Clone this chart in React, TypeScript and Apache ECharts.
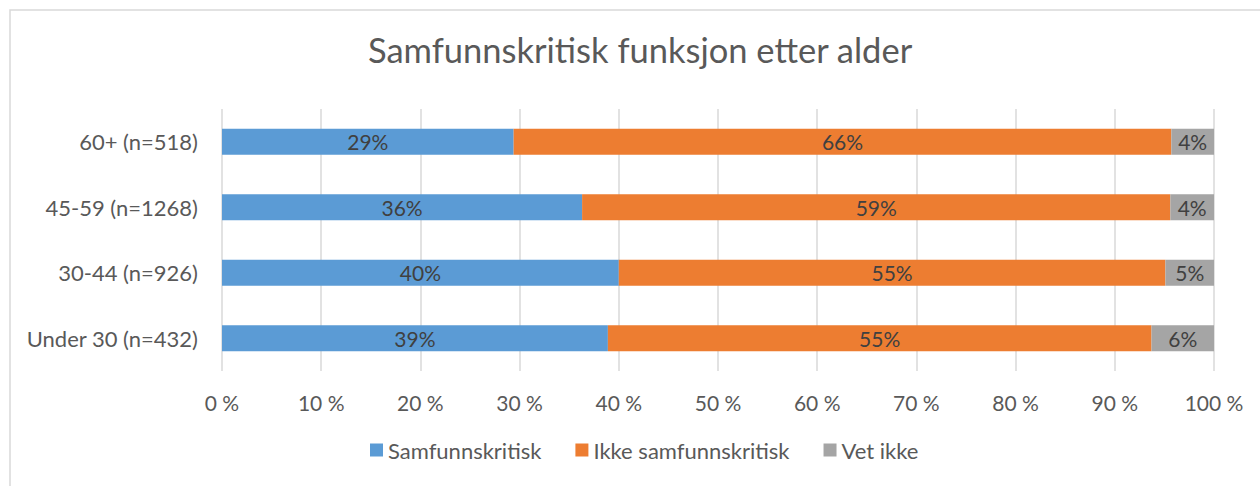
import React, { useEffect, useRef } from "react";
import * as echarts from "echarts";

const categories = ["Under 30 (n=432)", "30-44 (n=926)", "45-59 (n=1268)", "60+ (n=518)"];
const seriesNames = ["Samfunnskritisk", "Ikke samfunnskritisk", "Vet ikke"];
const samfunnskritisk = [38.9, 40.0, 36.3, 29.4];
const ikkeSamfunnskritisk = [54.8, 55.1, 59.3, 66.3];
const vetIkke = [6.3, 4.9, 4.4, 4.3];
const colors = ["#5B9BD5", "#ED7D31", "#A5A5A5"];
const FONT = "Lato, sans-serif";

export default function App() {
  const ref = useRef<HTMLDivElement>(null);
  useEffect(() => {
    const chart = echarts.init(ref.current!, null, { renderer: "svg" });
    const values = [samfunnskritisk, ikkeSamfunnskritisk, vetIkke];
    chart.setOption({
      animation: false,
      textStyle: { fontFamily: FONT },
      title: {
        text: "Samfunnskritisk funksjon etter alder",
        left: 368,
        top: 32,
        padding: 0,
        textStyle: { fontFamily: FONT, fontSize: 34.5, fontWeight: "normal", color: "#595959" },
      },
      graphic: [
        {
          type: "rect",
          shape: { x: 10, y: 10, width: 1300, height: 600 },
          style: { fill: "none", stroke: "#D9D9D9", lineWidth: 1.5 },
          z: -10,
        },
      ],
      legend: {
        data: seriesNames,
        bottom: 20,
        left: 365,
        itemWidth: 13,
        itemHeight: 13,
        itemGap: 34,
        icon: "rect",
        textStyle: { fontFamily: FONT, fontSize: 22, color: "#595959" },
      },
      grid: { left: 222, right: 46, top: 109, bottom: 115, containLabel: false },
      xAxis: {
        type: "value",
        min: 0,
        max: 100,
        interval: 10,
        axisLabel: {
          formatter: (v: number) => `${v} %`,
          fontFamily: FONT,
          fontSize: 21,
          color: "#595959",
          margin: 21,
        },
        axisLine: { show: false },
        axisTick: { show: false },
        splitLine: { show: true, lineStyle: { color: "#D9D9D9", width: 1.5 } },
      },
      yAxis: {
        type: "category",
        data: categories,
        axisLine: { show: false },
        axisTick: { show: false },
        axisLabel: { fontFamily: FONT, fontSize: 22, color: "#595959", margin: 24 },
      },
      series: seriesNames.map((name, i) => ({
        name,
        type: "bar",
        stack: "total",
        barWidth: "40%",
        data: values[i],
        itemStyle: { color: colors[i] },
        label: {
          show: true,
          position: "inside",
          formatter: (p: any) => `${Math.round(p.value)}%`,
          fontFamily: FONT,
          fontSize: 21,
          color: "#404040",
        },
      })),
    });
    return () => chart.dispose();
  }, []);
  return (
    <div
      ref={ref}
      style={{ position: "absolute", left: 0, top: 0, width: 1260, height: 486, background: "#fff" }}
    />
  );
}
